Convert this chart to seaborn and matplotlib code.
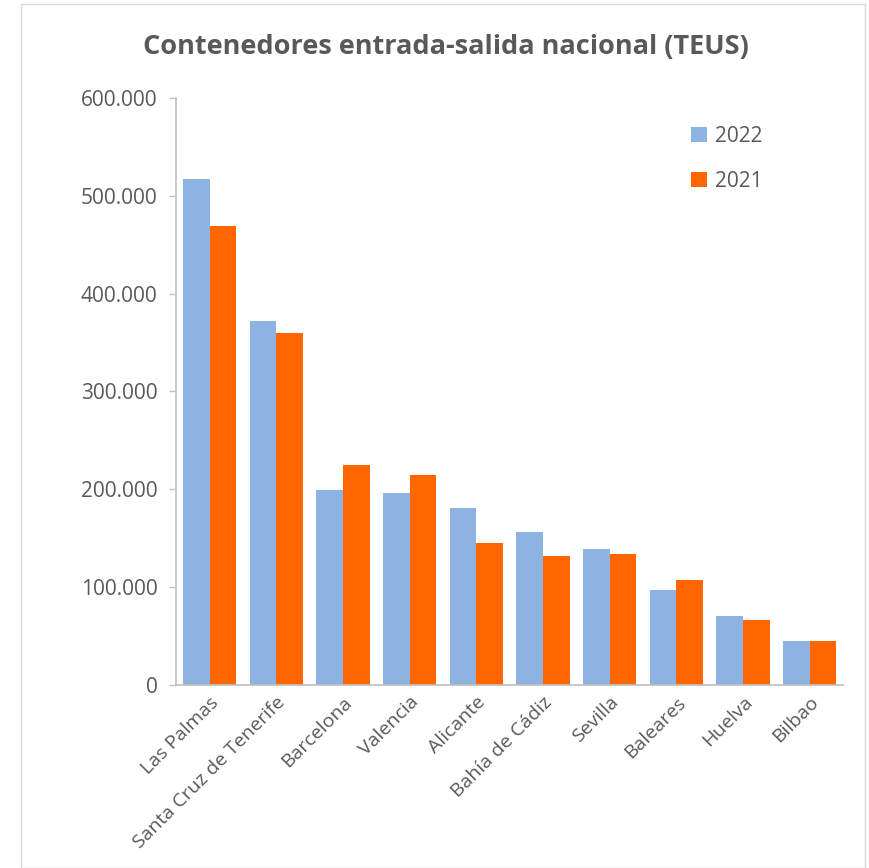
import pandas as pd
import matplotlib.pyplot as plt
import matplotlib.ticker as mticker
import seaborn as sns

# Datos
puertos = ['Las Palmas', 'Santa Cruz de Tenerife', 'Barcelona', 'Valencia', 'Alicante',
           'Bahía de Cádiz', 'Sevilla', 'Baleares', 'Huelva', 'Bilbao']
teus_2022 = [517000, 372000, 199000, 196000, 181000, 156000, 139000, 97000, 70000, 45000]
teus_2021 = [469000, 360000, 225000, 215000, 145000, 132000, 134000, 107000, 66000, 45000]
anios = ['2022', '2021']
colores = ['#8DB3E2', '#FF6600']

df = pd.concat([
    pd.DataFrame({'Puerto': puertos, 'TEUS': teus_2022, 'Año': '2022'}),
    pd.DataFrame({'Puerto': puertos, 'TEUS': teus_2021, 'Año': '2021'}),
])

sns.set_style('white')
plt.rcParams['font.family'] = ['Open Sans', 'DejaVu Sans']
gris = '#595959'

fig = plt.figure(figsize=(8.7, 8.68), dpi=100)
ax = fig.add_axes([0.202, 0.211, 0.767, 0.676])

sns.barplot(data=df, x='Puerto', y='TEUS', hue='Año', hue_order=anios,
            palette=colores, width=0.8, gap=0, saturation=1, linewidth=0, ax=ax)

ax.set_ylim(0, 600000)
ax.set_yticks(range(0, 600001, 100000))
ax.yaxis.set_major_formatter(mticker.FuncFormatter(
    lambda v, p: '0' if v == 0 else f'{int(v):,}'.replace(',', '.')))
ax.set_xlim(-0.51, len(puertos) - 0.5)
ax.set_xlabel('')
ax.set_ylabel('')

ax.tick_params(axis='y', labelsize=15, colors=gris, length=5, width=1, direction='out',
               left=True, pad=8)
ax.tick_params(axis='x', labelsize=14, colors=gris, length=0, pad=6)
plt.setp(ax.get_xticklabels(), rotation=45, ha='right', rotation_mode='anchor', color=gris)

for s in ['top', 'right']:
    ax.spines[s].set_visible(False)
for s in ['left', 'bottom']:
    ax.spines[s].set_color('#BFBFBF')
    ax.spines[s].set_linewidth(1.2)
ax.tick_params(axis='y', color='#BFBFBF')

leg = ax.legend(loc='upper left', bbox_to_anchor=(0.744, 0.985), frameon=False,
                fontsize=15, handlelength=0.75, handleheight=0.75, labelspacing=1.15,
                handletextpad=0.4)
for t in leg.get_texts():
    t.set_color(gris)

fig.text(0.512, 0.946, 'Contenedores entrada-salida nacional (TEUS)', ha='center', va='center',
         fontsize=19.5, fontweight='bold', color=gris)

# marco del gráfico
fig.patches.append(plt.Rectangle((0.024, 0.0), 0.97, 0.995, transform=fig.transFigure,
                                 fill=False, edgecolor='#D9D9D9', linewidth=1))

fig.savefig('out.png', dpi=100)
